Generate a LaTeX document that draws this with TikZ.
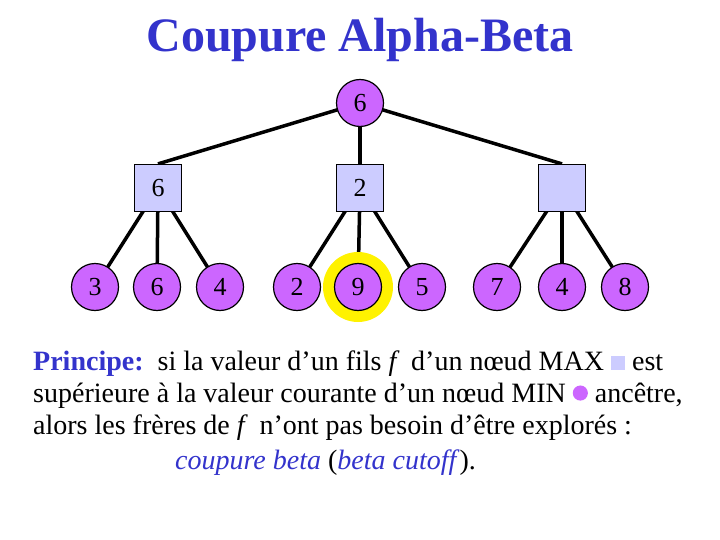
\documentclass[tikz,border=0pt]{standalone}
\usepackage{fontspec}
\setmainfont{Liberation Serif}
\usetikzlibrary{backgrounds}
\definecolor{cpurple}{HTML}{CC66FF}
\definecolor{csq}{HTML}{CCCCFF}
\definecolor{ctitle}{HTML}{3333CC}
\begin{document}
\begin{tikzpicture}[x=1pt,y=-1pt,
  mx/.style={draw=black,line width=1.2pt,fill=cpurple,circle,minimum size=47pt,inner sep=0pt,font=\fontsize{26}{26}\selectfont},
  mn/.style={draw=black,line width=1.2pt,fill=csq,rectangle,minimum size=47pt,inner sep=0pt,font=\fontsize{26}{26}\selectfont},
  ed/.style={line width=3.5pt},
  txt/.style={anchor=base west,inner sep=0pt,font=\fontsize{28}{28}\selectfont}]
\useasboundingbox (0,0) rectangle (720,540);
\node[font=\bfseries\fontsize{48}{48}\selectfont,text=ctitle] (title) at (360,40) {Coupure Alpha-Beta};
\fill[yellow] (358,287) circle (35);
\node[mx] (r) at (360,103) {6};
\node[mn] (a) at (158,188) {6};
\node[mn] (b) at (360,188) {2};
\node[mn] (c) at (562,188) {};
\foreach \n/\x/\v in {l1/95/3,l2/157/6,l3/220/4,l4/297/2,l5/358/9,l6/422/5,l7/497/7,l8/562/4,l9/625/8}
  \node[mx] (\n) at (\x,287) {\v};
\begin{scope}[on background layer]
\draw[ed] (r.center) -- (a.north);
\draw[ed] (r.center) -- (b.north);
\draw[ed] (r.center) -- (c.north);
\foreach \p/\q in {a/l1,a/l2,a/l3,b/l4,b/l5,b/l6,c/l7,c/l8,c/l9}
  \draw[ed] (\p.center) -- (\q.center);
\end{scope}
\node[txt] (t1) at (33,370) {\textcolor{ctitle}{\textbf{Principe:}}\ \ si la valeur d’un fils \textit{f}\, d’un nœud MAX \textcolor{csq}{\rule{0.5em}{0.5em}} est};
\node[txt] (t2) at (33,402) {supérieure à la valeur courante d’un nœud MIN \textcolor{cpurple}{\raisebox{0.05em}{\tikz\fill (0,0) circle (0.27em);}} ancêtre,};
\node[txt] (t3) at (33,434) {alors les frères de \textit{f}\, n’ont pas besoin d’être explorés :};
\node[txt] (t4) at (175,469) {\textcolor{ctitle}{\textit{coupure beta}} (\textcolor{ctitle}{\textit{beta cutoff}}).};
\end{tikzpicture}
\end{document}
